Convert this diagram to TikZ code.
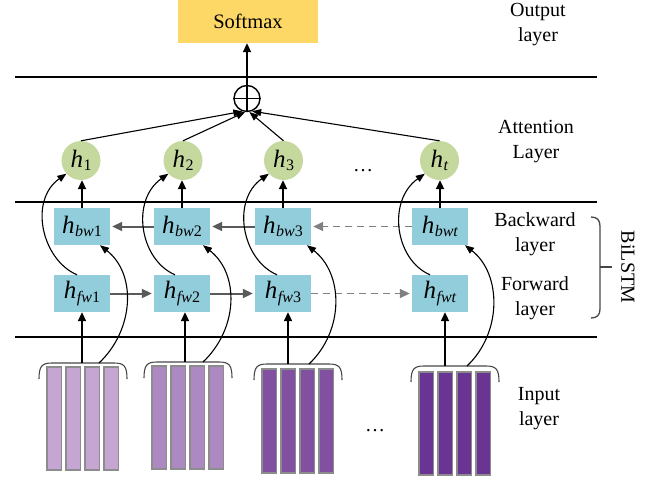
\documentclass[tikz,border=0pt]{standalone}
\usepackage{fontspec}
\setmainfont{Liberation Serif}
\usetikzlibrary{arrows.meta}
\definecolor{softy}{RGB}{253,216,102}
\definecolor{boxblue}{RGB}{146,205,220}
\definecolor{circgreen}{RGB}{197,216,158}
\definecolor{arrgray}{RGB}{90,90,90}
\definecolor{dashgray}{RGB}{128,128,128}
\definecolor{bargray}{RGB}{140,140,140}
\definecolor{gA}{RGB}{197,166,211}
\definecolor{gB}{RGB}{173,137,193}
\definecolor{gC}{RGB}{129,80,160}
\definecolor{gD}{RGB}{106,52,148}
\definecolor{bracegray}{RGB}{70,70,70}
\newcommand{\hvar}[1]{\textit{h}\kern0.5pt\raisebox{-0.3ex}{\fontsize{16}{16}\selectfont #1}}
\begin{document}
\begin{tikzpicture}[x=1pt,y=-1pt,
  lay/.style={font=\fontsize{20}{25}\selectfont, align=center, inner sep=0},
  softbox/.style={fill=softy, minimum width=140pt, minimum height=43pt, inner sep=0, font=\fontsize{20.5}{24}\selectfont},
  hbox/.style={fill=boxblue, minimum width=56pt, minimum height=37pt, inner sep=0, font=\fontsize{25}{25}\selectfont},
  hcirc/.style={circle, fill=circgreen, minimum size=39pt, inner sep=0, font=\fontsize{25}{25}\selectfont},
  divider/.style={line width=2pt},
  thk/.style={line width=2pt, -{Triangle[length=9pt,width=8pt]}},
  garr/.style={draw=arrgray, line width=2pt, shorten >=2pt, -{Triangle[length=10pt,width=9pt]}},
  gdash/.style={draw=dashgray, line width=1.6pt, dash pattern=on 7pt off 5pt, shorten >=2pt, -{Triangle[length=10pt,width=9pt]}},
  curv/.style={line width=1.1pt, -{Triangle[length=9pt,width=7pt]}},
  bar/.style={draw=bargray, line width=1.3pt},
  brk/.style={line width=1.1pt, draw=bracegray}]
\useasboundingbox (0,0) rectangle (647,477);

% dividers
\draw[divider] (15,77) -- (597,77);
\draw[divider] (15,202) -- (597,202);
\draw[divider] (15,337) -- (597,337);

% output
\node[softbox] (sm) at (248,21.5) {Softmax};
\node[circle, draw, line width=1.4pt, minimum size=26pt, inner sep=0] (op) at (247,98.5) {};
\draw[line width=1.4pt] (op.north) -- (op.south) (op.west) -- (op.east);
\draw[thk] (op.north) -- (op.north |- sm.south);

% attention circles
\node[hcirc] (h1) at (81,160.5) {\hvar{1}};
\node[hcirc] (h2) at (183,160.5) {\hvar{2}};
\node[hcirc] (h3) at (283.5,160.5) {\hvar{3}};
\node[hcirc] (ht) at (439.5,160.5) {\hvar{\textit{t}}};
\node[lay] (dots1) at (363,171) {\ldots};

\draw[curv] (h1.north) -- (op.250);
\draw[curv] (h2.north) -- (op.262);
\draw[curv] (h3.north) -- (op.280);
\draw[curv] (ht.north) -- (op.292);

% BiLSTM boxes
\node[hbox] (bw1) at (82,226.5) {\hvar{\textit{bw}1}};
\node[hbox] (bw2) at (182,226.5) {\hvar{\textit{bw}2}};
\node[hbox] (bw3) at (283,226.5) {\hvar{\textit{bw}3}};
\node[hbox] (bwt) at (440,226.5) {\hvar{\textit{bwt}}};
\node[hbox] (fw1) at (82,293.5) {\hvar{\textit{fw}1}};
\node[hbox] (fw2) at (182,293.5) {\hvar{\textit{fw}2}};
\node[hbox] (fw3) at (283,293.5) {\hvar{\textit{fw}3}};
\node[hbox] (fwt) at (440,293.5) {\hvar{\textit{fwt}}};

\draw[garr] (bw2.west) -- (bw1.east);
\draw[garr] (bw3.west) -- (bw2.east);
\draw[gdash] (bwt.west) -- (bw3.east);
\draw[garr] (fw1.east) -- (fw2.west);
\draw[garr] (fw2.east) -- (fw3.west);
\draw[gdash] (fw3.east) -- (fwt.west);

\draw[thk] (bw1.north) -- (bw1.north |- h1.south);
\draw[thk] (bw2.north) -- (bw2.north |- h2.south);
\draw[thk] (bw3.north) -- (bw3.north |- h3.south);
\draw[thk] (bwt.north) -- (bwt.north |- ht.south);

\draw[curv] ([xshift=-5pt]fw1.north) .. controls +(-35,-15) and +(-38,27) .. (h1.222);
\draw[curv] ([xshift=-7pt]fw2.north) .. controls +(-35,-15) and +(-38,27) .. (h2.222);
\draw[curv] ([xshift=-6pt]fw3.north) .. controls +(-35,-15) and +(-38,27) .. (h3.222);
\draw[curv] ([xshift=-10pt]fwt.north) .. controls +(-35,-15) and +(-38,27) .. (ht.222);

% input groups
\foreach \sx/\bt/\tt/\bb/\col [count=\g] in {47/363/367/470/gA, 152/362/366/469/gB, 262/364/369/473/gC, 419/366/372/475/gD}{
  \foreach \i in {0,...,3}{
    \draw[bar, fill=\col] (\sx+19*\i,\tt) rectangle +(14.5,\bb-\tt);
  }
  \draw[brk] (\sx-8,\bt+16) .. controls (\sx-8,\bt+3) and (\sx-5,\bt) .. (\sx+5,\bt) -- (\sx+67,\bt) .. controls (\sx+77,\bt) and (\sx+80,\bt+3) .. (\sx+80,\bt+16);
}
\coordinate (a1) at (82,363);
\coordinate (a2) at (185,362);
\coordinate (a3) at (288,364);
\coordinate (a4) at (445,366);
\node[lay] (dots2) at (375,431) {\ldots};

\draw[thk] (a1) -- (a1 |- fw1.south);
\draw[thk] (a2) -- (a2 |- fw2.south);
\draw[thk] (a3) -- (a3 |- fw3.south);
\draw[thk] (a4) -- (a4 |- fwt.south);

\draw[curv] ([xshift=17pt]a1) .. controls +(35,-33) and +(37,29) .. ([xshift=18pt]bw1.south);
\draw[curv] ([xshift=18pt]a2) .. controls +(35,-33) and +(37,29) .. ([xshift=21pt]bw2.south);
\draw[curv] ([xshift=21pt]a3) .. controls +(35,-33) and +(37,29) .. ([xshift=24pt]bw3.south);
\draw[curv] ([xshift=22pt]a4) .. controls +(35,-33) and +(37,29) .. ([xshift=25pt]bwt.south);

% layer labels
\node[lay] (lout) at (538,25) {Output\\layer};
\node[lay] (latt) at (536,142) {Attention\\Layer};
\node[lay] (lbw) at (535,234.5) {Backward\\layer};
\node[lay] (lfw) at (535,298) {Forward\\layer};
\node[lay] (lin) at (539,409) {Input\\layer};

% BiLSTM brace
\draw[line width=1.3pt, draw=bracegray] (591,217) .. controls (597,217) and (600,220) .. (600,226) -- (600,309) .. controls (600,315) and (597,318) .. (591,318);
\draw[line width=1.3pt, draw=bracegray] (600,267) -- (612,267);
\node[lay, rotate=-90] (bil) at (628,267) {BiLSTM};
\end{tikzpicture}
\end{document}
